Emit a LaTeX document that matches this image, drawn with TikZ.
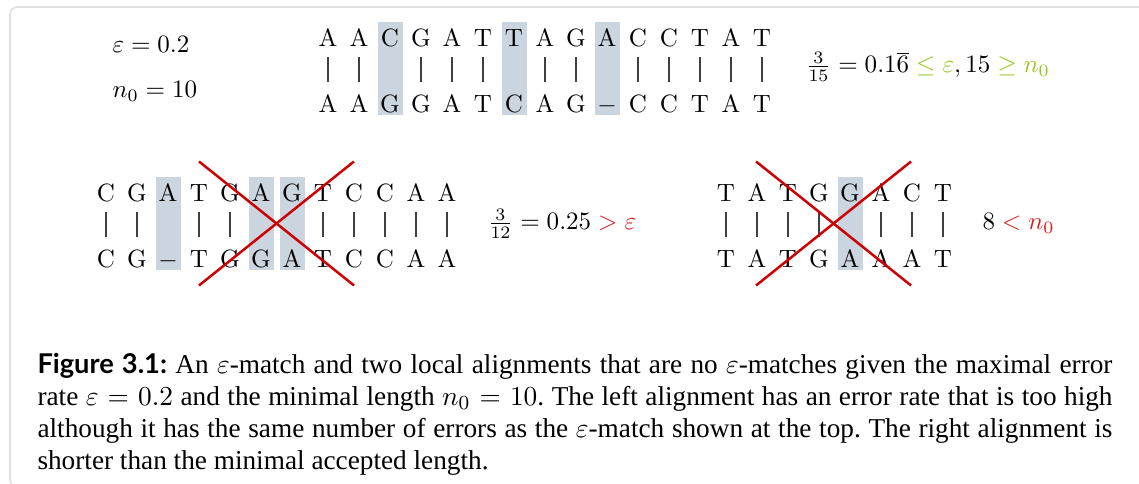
\documentclass[tikz,border=0pt]{standalone}
\usepackage{fontspec}
\usepackage{amsmath}
\usepackage{amssymb}
\usepackage{tikz}

\newfontfamily\capfont{Liberation Serif}
\newfontfamily\capsans{Lato}

\definecolor{mismatch}{RGB}{203,213,224}
\definecolor{okgreen}{RGB}{150,200,30}
\definecolor{badred}{RGB}{218,30,30}
\definecolor{crossred}{RGB}{204,0,0}

\begin{document}
\begin{tikzpicture}[
    x=0.4pt, y=-0.4pt,
    nt/.style={inner sep=0pt, anchor=base, text height=6.83pt, text depth=0pt},
    bar/.style={draw=black!75, line width=0.45pt, shorten <=4pt, shorten >=5.2pt},
    hl/.style={fill=mismatch},
    cross/.style={draw=crossred, line width=1pt},
    frame/.style={draw=black!12, line width=0.7pt, rounded corners=3pt},
    lbl/.style={inner sep=0pt, anchor=base west}
]
\useasboundingbox (0,0) rectangle (1139,484);
\clip (0,0) rectangle (1139,484);

% Frame round the figure
\draw[frame] (10,7) rectangle (1200,487);

% Parameters
\node[lbl] (eps) at (112,53) {$\varepsilon = 0.2$};
\node[lbl] (nmin) at (112,98) {$n_0 = 10$};

% The epsilon-match
\foreach \i in {3,7,10}
    \fill[hl] ({297+31*\i-12.5},22) rectangle ++(25,93);
\foreach \c [count=\i] in {A,A,C,G,A,T,T,A,G,A,C,C,T,A,T}
    \node[nt] (mt\i) at ({297+31*\i},47) {\c};
\foreach \c [count=\i] in {A,A,G,G,A,T,C,A,G,$-$,C,C,T,A,T}
    \node[nt] (mb\i) at ({297+31*\i},113) {\c};
\foreach \i in {1,2,4,5,6,8,9,11,12,13,14,15}
    \draw[bar] (mt\i) -- (mb\i);
\node[lbl] (mrate) at (805,73)
    {$\frac{3}{15} = 0.1\overline{6} \color{okgreen}\leq \varepsilon\color{black}, 15 \color{okgreen}\geq n_0$};

% Left alignment: error rate too high
\foreach \i in {3,6,7}
    \fill[hl] ({75+31*\i-12.5},177) rectangle ++(25,93);
\foreach \c [count=\i] in {C,G,A,T,G,A,G,T,C,C,A,A}
    \node[nt] (lt\i) at ({75+31*\i},202) {\c};
\foreach \c [count=\i] in {C,G,$-$,T,G,G,A,T,C,C,A,A}
    \node[nt] (lb\i) at ({75+31*\i},268) {\c};
\foreach \i in {1,2,4,5,8,9,10,11,12}
    \draw[bar] (lt\i) -- (lb\i);
\draw[cross] (199,161.5) -- (354,285.5);
\draw[cross] (354,161.5) -- (199,285.5);
\node[lbl] (lrate) at (487,230) {$\frac{3}{12} = 0.25 \color{badred}> \varepsilon$};

% Right alignment: too short
\foreach \i in {5}
    \fill[hl] ({695+31*\i-12.5},177) rectangle ++(25,93);
\foreach \c [count=\i] in {T,A,T,G,G,A,C,T}
    \node[nt] (rt\i) at ({695+31*\i},202) {\c};
\foreach \c [count=\i] in {T,A,T,G,A,A,A,T}
    \node[nt] (rb\i) at ({695+31*\i},268) {\c};
\foreach \i in {1,2,3,4,6,7,8}
    \draw[bar] (rt\i) -- (rb\i);
\draw[cross] (756,161.5) -- (911,285.5);
\draw[cross] (911,161.5) -- (756,285.5);
\node[lbl] (rlen) at (982,230) {$8 \color{badred}< n_0$};

% Caption
\node[anchor=north west, inner sep=0pt, text width=430pt, align=justify,
      font=\capfont\fontsize{10.9}{12.8}\selectfont\frenchspacing] (cap) at (37,353)
    {{\capsans\bfseries Figure 3.1:} An $\varepsilon$-match and two local alignments that are no $\varepsilon$-matches given the maximal error\linebreak
     rate $\varepsilon = 0.2$ and the minimal length $n_0 = 10$. The left alignment has an error rate that is too high\linebreak
     although it has the same number of errors as the $\varepsilon$-match shown at the top. The right alignment is\linebreak
     shorter than the minimal accepted length.};

\end{tikzpicture}
\end{document}
